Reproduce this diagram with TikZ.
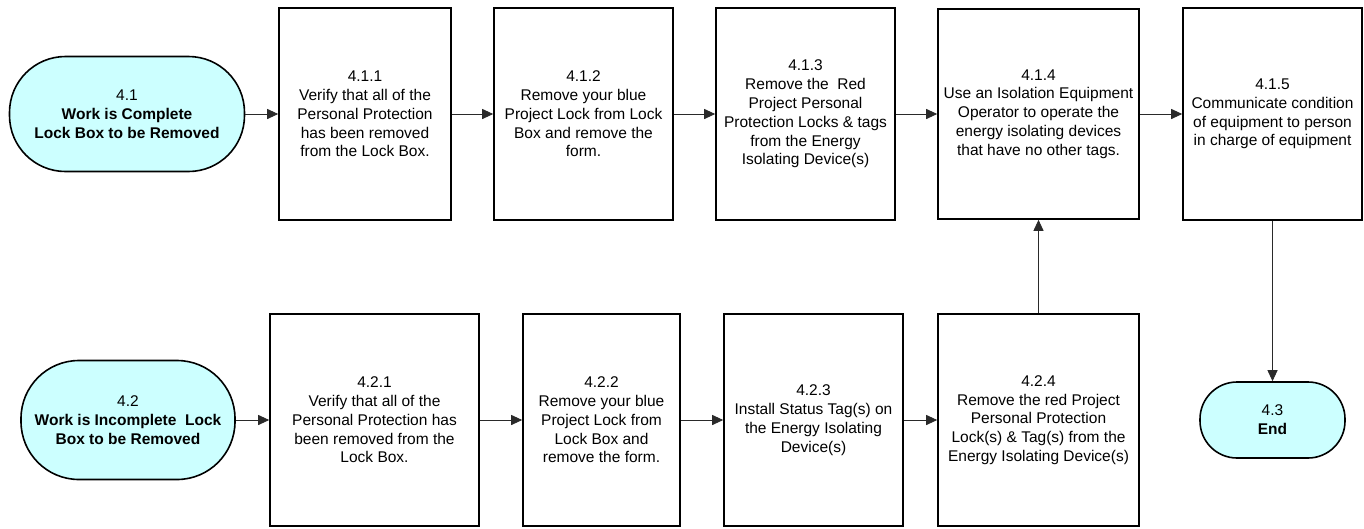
\documentclass[tikz,border=0pt]{standalone}
\usepackage{fontspec}
\setmainfont{Liberation Sans}
\usetikzlibrary{arrows.meta,positioning}
\definecolor{cy}{HTML}{CCFFFF}
\definecolor{ln}{HTML}{2A2A2A}
\tikzset{
  box/.style={draw,line width=1.6pt,align=center,inner sep=0pt,font=\fontsize{15.5}{18.8}\selectfont},
  term/.style={box,fill=cy,rounded corners=#1},
  ar/.style={-{Triangle[length=11pt,width=10pt]},draw=ln,line width=0.9pt},
}
\begin{document}
\begin{tikzpicture}[x=1pt,y=1pt]
\useasboundingbox (0,0) rectangle (1364,-528);
% top row
\node[term=56pt,minimum width=235pt,minimum height=115pt] (t41) at (127,-114)
  {4.1\\\textbf{Work is Complete}\\\textbf{Lock Box to be Removed}};
\node[box,minimum width=172pt,minimum height=212pt] (b411) at (365,-114)
  {4.1.1\\Verify that all of the\\Personal Protection\\has been removed\\from the Lock Box.};
\node[box,minimum width=179pt,minimum height=212pt] (b412) at (583.5,-114)
  {4.1.2\\Remove your blue\\Project Lock from Lock\\Box and remove the\\form.};
\node[box,minimum width=179pt,minimum height=212pt] (b413) at (805.5,-114)
  {4.1.3\\Remove the~ Red\\Project Personal\\Protection Locks \& tags\\from the Energy\\Isolating Device(s)};
\node[box,minimum width=201pt,minimum height=210pt] (b414) at (1038.5,-114)
  {4.1.4\\Use an Isolation Equipment\\Operator to operate the\\energy isolating devices\\that have no other tags.};
\node[box,minimum width=179pt,minimum height=212pt] (b415) at (1272.5,-114)
  {4.1.5\\Communicate condition\\of equipment to person\\in charge of equipment};
% bottom row
\node[term=58pt,minimum width=214pt,minimum height=119pt] (t42) at (128,-420)
  {4.2\\\textbf{Work is Incomplete~ Lock}\\\textbf{Box to be Removed}};
\node[box,minimum width=209pt,minimum height=212pt] (b421) at (374.5,-420)
  {4.2.1\\Verify that all of the\\Personal Protection has\\been removed from the\\Lock Box.};
\node[box,minimum width=157pt,minimum height=212pt] (b422) at (601.5,-420)
  {4.2.2\\Remove your blue\\Project Lock from\\Lock Box and\\remove the form.};
\node[box,minimum width=179pt,minimum height=212pt] (b423) at (813.5,-420)
  {4.2.3\\Install Status Tag(s) on\\the Energy Isolating\\Device(s)};
\node[box,minimum width=201pt,minimum height=212pt] (b424) at (1038.5,-420)
  {4.2.4\\Remove the red Project\\Personal Protection\\Lock(s) \& Tag(s) from the\\Energy Isolating Device(s)};
\node[term=37pt,minimum width=145pt,minimum height=76pt] (t43) at (1272.5,-420)
  {4.3\\\textbf{End}};
% connectors
\draw[ar] (t41) -- (b411);
\draw[ar] (b411) -- (b412);
\draw[ar] (b412) -- (b413);
\draw[ar] (b413) -- (b414);
\draw[ar] (b414) -- (b415);
\draw[ar] (b415) -- (t43);
\draw[ar] (t42) -- (b421);
\draw[ar] (b421) -- (b422);
\draw[ar] (b422) -- (b423);
\draw[ar] (b423) -- (b424);
\draw[ar] (b424) -- (b414);
\end{tikzpicture}
\end{document}
